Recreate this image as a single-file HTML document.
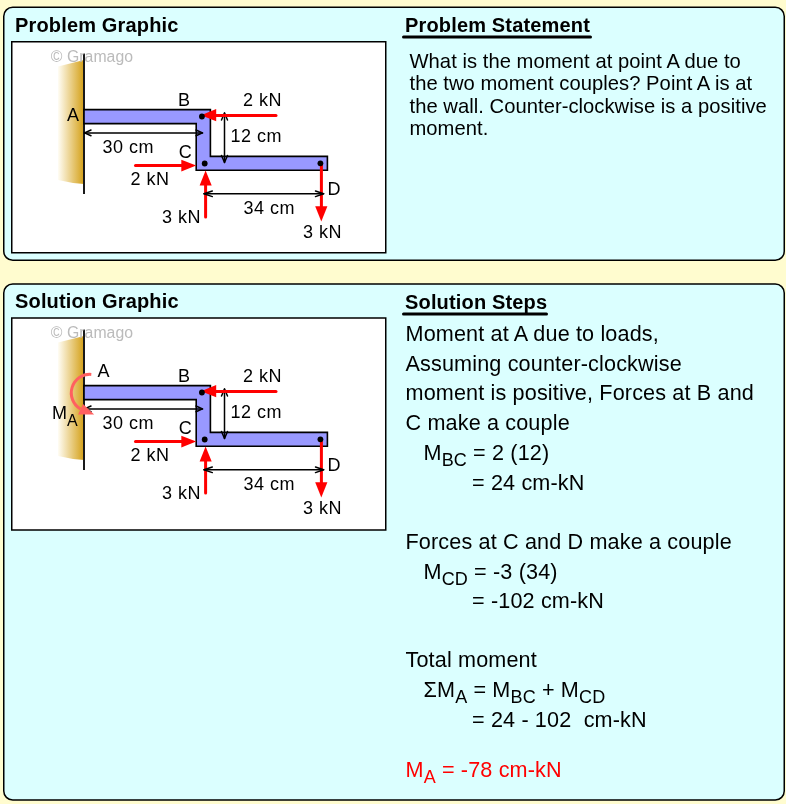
<!DOCTYPE html>
<html><head><meta charset="utf-8">
<style>
html,body{margin:0;padding:0;width:786px;height:804px;overflow:hidden;background:#FFFCCF;}
svg{display:block;will-change:transform;font-family:"Liberation Sans",sans-serif;}
</style></head><body>
<svg width="786" height="804" viewBox="0 0 786 804">
<defs>
<linearGradient id="wg" x1="58" y1="0" x2="84" y2="0" gradientUnits="userSpaceOnUse">
<stop offset="0" stop-color="#FFFDF5"/>
<stop offset="1" stop-color="#D4A017"/>
</linearGradient>
<g id="diag">
<path d="M58,66.5 L84,60 L84,184 Q70,183 58,180 Z" fill="url(#wg)"/>
<line x1="84" y1="53.5" x2="84" y2="194" stroke="#1a1a1a" stroke-width="2"/>
<polygon points="84,109.6 210.4,109.6 210.4,156.4 327.4,156.4 327.4,170.2 196.2,170.2 196.2,123.6 84,123.6" fill="#9999FF" stroke="#000" stroke-width="1.6"/>
<g stroke="#000" stroke-width="1.5" fill="none" stroke-linecap="round" stroke-linejoin="round">
<line x1="224.5" y1="113" x2="224.5" y2="162.5"/>
<polyline points="221.5,120 224.5,113 227.5,120"/>
<polyline points="221.5,155.5 224.5,162.5 227.5,155.5"/>
</g>
<g stroke="#FF0000" stroke-width="3" stroke-linecap="round">
<line x1="276" y1="115.4" x2="212" y2="115.4"/>
<line x1="135.5" y1="165.5" x2="184" y2="165.5"/>
<line x1="205.6" y1="217" x2="205.6" y2="183"/>
<line x1="321.4" y1="163.5" x2="321.4" y2="208"/>
</g>
<g fill="#FF0000">
<polygon points="201,115.2 216.2,109.1 216.2,121.3"/>
<polygon points="196.2,165.5 181.3,159.7 181.3,171.6"/>
<polygon points="205.6,170.4 199.6,185.4 211.7,185.4"/>
<polygon points="321.3,221.4 315.2,206.2 327.4,206.2"/>
</g>
<g stroke="#000" stroke-width="1.5" fill="none" stroke-linecap="round" stroke-linejoin="round">
<line x1="84.5" y1="132.9" x2="202.5" y2="132.9"/>
<polyline points="91,130 84.5,132.9 91,135.8"/>
<polyline points="196,130 202.5,132.9 196,135.8"/>
<line x1="204" y1="193.8" x2="323.6" y2="193.8"/>
<polyline points="212.3,191 204,193.8 212.3,196.6"/>
<polyline points="315.5,191 323.6,193.8 315.5,196.6"/>
</g>
<circle cx="201.9" cy="116.5" r="2.9" fill="#000"/>
<circle cx="204.7" cy="163.5" r="2.9" fill="#000"/>
<circle cx="320.4" cy="163.3" r="2.9" fill="#000"/>
<g font-size="18" fill="#000" letter-spacing="0.5" transform="translate(0.4,0)">
<text x="177.5" y="105.7">B</text>
<text x="242.5" y="105.5">2 kN</text>
<text x="230" y="141.8">12 cm</text>
<text x="102" y="152.7">30 cm</text>
<text x="178.3" y="157.9">C</text>
<text x="130" y="185.2">2 kN</text>
<text x="161.6" y="222.5">3 kN</text>
<text x="243" y="213.7">34 cm</text>
<text x="327" y="195">D</text>
<text x="302.6" y="238.3">3 kN</text>
</g>
<text x="50.8" y="61.7" font-size="15.8" fill="#BBBBBB" letter-spacing="0.05">© Gramago</text>
</g>
</defs>

<!-- Panel 1 -->
<rect x="3.75" y="7.25" width="780.5" height="253" rx="9" ry="9" fill="#DBFFFF" stroke="#000" stroke-width="1.5"/>
<text x="15" y="31.8" font-size="20" font-weight="bold" letter-spacing="0.16">Problem Graphic</text>
<rect x="11.75" y="41.75" width="374" height="211" fill="#FFFFFF" stroke="#000" stroke-width="1.5"/>
<use href="#diag"/>
<text x="67" y="120.7" font-size="18">A</text>

<text x="405" y="31.7" font-size="20" font-weight="bold" letter-spacing="0.16">Problem Statement</text>
<line x1="403.5" y1="37" x2="590.5" y2="37" stroke="#000" stroke-width="3" stroke-linecap="round"/>
<g font-size="20.2" letter-spacing="0.04">
<text x="409.5" y="67.9">What is the moment at point A due to</text>
<text x="409.5" y="90.4">the two moment couples? Point A is at</text>
<text x="409.5" y="112.9">the wall. Counter-clockwise is a positive</text>
<text x="409.5" y="135.4">moment.</text>
</g>

<!-- Panel 2 -->
<rect x="3.75" y="284" width="780.5" height="516" rx="9" ry="9" fill="#DBFFFF" stroke="#000" stroke-width="1.5"/>
<text x="15" y="308" font-size="20" font-weight="bold" letter-spacing="0.16">Solution Graphic</text>
<rect x="11.75" y="318" width="374" height="212" fill="#FFFFFF" stroke="#000" stroke-width="1.5"/>
<use href="#diag" transform="translate(0,276)"/>
<text x="97.5" y="376.9" font-size="18">A</text>
<path d="M91.3,374.4 A18.6,18.6 0 0 0 80.5,409" fill="none" stroke="#FF6060" stroke-width="3"/>
<polygon points="78.1,414.6 83,403.9 94.2,414.6" fill="#FF6060"/>
<text x="52" y="419.2" font-size="18">M<tspan font-size="16" dy="6.5">A</tspan></text>

<text x="405" y="308.7" font-size="20" font-weight="bold" letter-spacing="0.16">Solution Steps</text>
<line x1="403.5" y1="314" x2="546.5" y2="314" stroke="#000" stroke-width="3" stroke-linecap="round"/>
<g font-size="21.6" letter-spacing="0.15">
<text x="405.5" y="341">Moment at A due to loads,</text>
<text x="405.5" y="370.6">Assuming counter-clockwise</text>
<text x="405.5" y="400.3">moment is positive, Forces at B and</text>
<text x="405.5" y="430">C make a couple</text>
<text x="423.5" y="459.6">M<tspan font-size="18" dy="6.3">BC</tspan><tspan dy="-6.3"> = 2 (12)</tspan></text>
<text x="472" y="489.6">= 24 cm-kN</text>
<text x="405.5" y="548.9">Forces at C and D make a couple</text>
<text x="423.5" y="578.5">M<tspan font-size="18" dy="6">CD</tspan><tspan dy="-6"> = -3 (34)</tspan></text>
<text x="472" y="608.2">= -102 cm-kN</text>
<text x="405.5" y="667">Total moment</text>
<text x="423.5" y="697.1">ΣM<tspan font-size="18" dy="6.3">A</tspan><tspan dy="-6.3"> = M</tspan><tspan font-size="18" dy="6.3">BC</tspan><tspan dy="-6.3"> + M</tspan><tspan font-size="18" dy="6.3">CD</tspan></text>
<text x="472" y="727" xml:space="preserve">= 24 - 102  cm-kN</text>
<text x="405.5" y="776.6" fill="#FF0000">M<tspan font-size="18" dy="6.3">A</tspan><tspan dy="-6.3"> = -78 cm-kN</tspan></text>
</g>
</svg>
</body></html>
